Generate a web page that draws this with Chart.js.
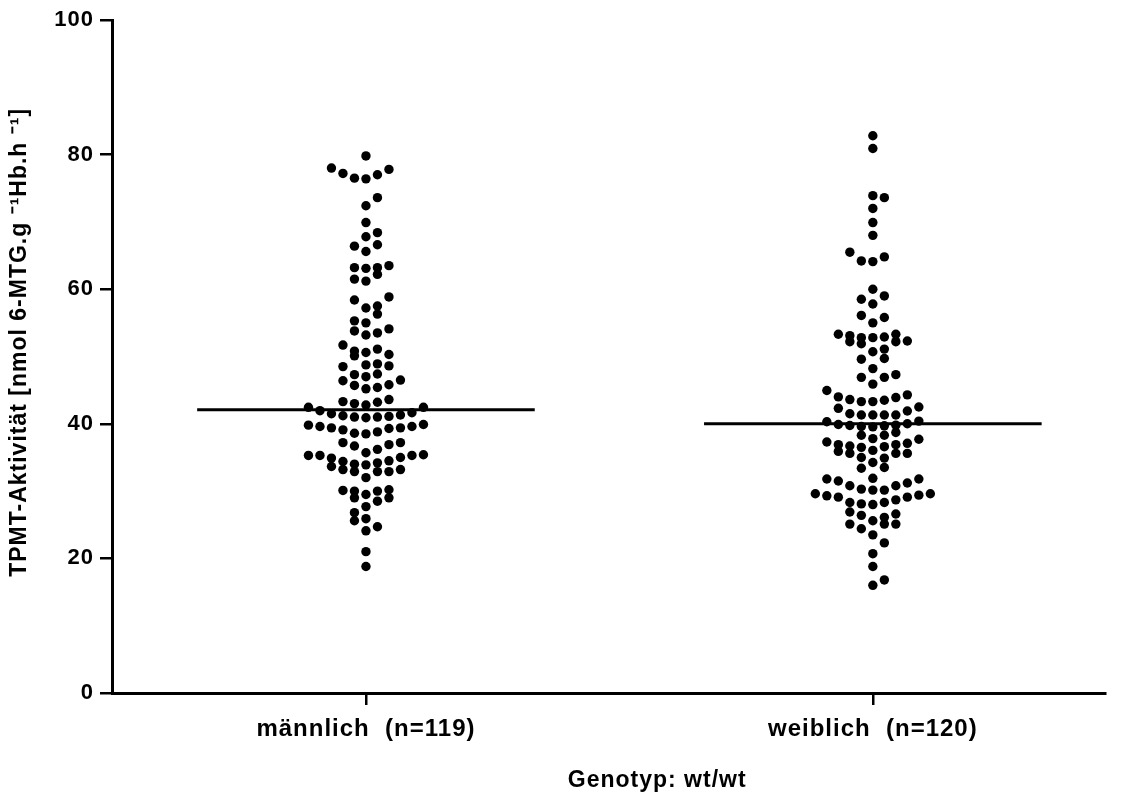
<!DOCTYPE html>
<html>
<head>
<meta charset="utf-8">
<script src="https://cdn.jsdelivr.net/npm/chart.js@4.4.0/dist/chart.umd.min.js"></script>
<style>
  html, body { margin: 0; padding: 0; background: #ffffff; }
  canvas { display: block; }
</style>
</head>
<body>
<canvas id="c" width="1123" height="800"></canvas>
<script>
// ---------------- data ----------------
const categories = ['männlich  (n=119)', 'weiblich  (n=120)'];

const maleValues = [
  18.8, 21.0,
  24.1, 24.7, 25.6,
  25.9, 26.8,
  27.7, 28.5, 29.0, 29.0,
  29.5, 30.0, 30.0, 30.1, 30.2,
  32.0, 32.9, 32.9, 32.9, 33.2, 33.2, 33.65,
  33.9, 34.0, 34.2, 34.4, 34.5, 34.9, 35.0, 35.3, 35.3, 35.3, 35.4,
  35.7, 36.2, 36.7, 36.9, 37.2, 37.2,
  38.5, 38.6, 38.8, 39.1, 39.3, 39.4, 39.4, 39.6, 39.6, 39.8, 39.9,
  40.9, 41.0, 41.0, 41.1, 41.2, 41.3, 41.5, 41.65, 41.95, 42.45, 42.45,
  42.8, 43.0, 43.2, 43.3, 43.6,
  45.2, 45.4, 45.7, 45.8, 46.4, 46.5,
  47.0, 47.3, 47.4, 48.5, 48.6,
  48.75, 48.9, 50.1, 50.3,
  50.6, 50.8, 51.1, 51.7,
  53.2, 53.5, 53.8, 54.1,
  55.0, 55.3, 56.3,
  57.2, 57.5, 58.4, 58.85,
  61.2, 61.5, 62.2,
  63.1, 63.2, 63.2, 63.5,
  65.6, 66.4, 66.6,
  67.8, 68.4,
  69.9,
  72.4, 73.6,
  76.4, 76.5, 77.0, 77.2, 77.8, 78.0,
  79.8
];

const femaleValues = [
  16.0, 16.8,
  18.8,
  20.7, 22.3,
  23.5, 24.4, 25.1, 25.1, 25.1,
  25.6, 26.1, 26.4, 26.6, 26.9,
  28.0, 28.1, 28.3, 28.3, 28.7, 29.1, 29.1, 29.3, 29.4, 29.6, 29.6,
  30.15, 30.15, 30.3, 30.8, 30.8, 31.2, 31.5, 31.8, 31.8,
  31.9, 33.4, 33.5,
  34.25, 34.9, 35.0, 35.6, 35.6, 35.6, 35.9,
  36.05, 36.5, 36.6, 36.7, 36.9, 36.9, 37.1, 37.3, 37.7,
  37.8, 38.3, 38.3, 38.7,
  39.55, 39.6, 39.7, 39.75, 39.8, 39.9, 40.0, 40.3, 40.4,
  41.3, 41.3, 41.3, 41.3, 41.5, 41.9, 42.3, 42.5,
  43.3, 43.3, 43.5, 43.6, 43.9, 44.0, 44.3, 44.95,
  45.9, 46.9, 46.9, 47.3,
  48.2, 49.6, 49.7,
  50.7, 51.1, 51.9, 52.2, 52.2, 52.3,
  52.8, 52.8, 52.9, 53.1, 53.3, 53.3,
  55.0, 55.8, 56.1,
  57.8, 58.5, 59.0,
  60.0,
  64.1, 64.2, 64.8, 65.5,
  68.0,
  69.9,
  72.0, 73.6,
  73.9,
  80.9,
  82.8
];

const groupMeans = [42.1, 40.0];
const yTickValues = [0, 20, 40, 60, 80, 100];
const yTitle = 'TPMT-Aktivität [nmol 6-MTG.g ⁻¹Hb.h ⁻¹]';
const xTitle = 'Genotyp: wt/wt';

// ---------------- styling constants ----------------
const FONT = "'Liberation Sans', Arial, Helvetica, sans-serif";
const DOT_RADIUS = 4.7;
const COL_STEP_PX = 11.5;   // horizontal spacing of swarm columns
const ROW_BIN_PX = 11.5;    // vertical extent of one swarm row
const MEAN_HALF = 0.333;    // half length of mean bar (x units)

const groups = [maleValues, femaleValues];

const letterSpacingPlugin = {
  id: 'letterSpacing',
  beforeDraw(chart) { try { chart.ctx.letterSpacing = '1px'; } catch (e) {} }
};

const titlesPlugin = {
  id: 'axisTitles',
  afterDraw(chart) {
    const { ctx, chartArea: a } = chart;
    ctx.save();
    ctx.font = `bold 23px ${FONT}`;
    ctx.fillStyle = '#000';
    ctx.textAlign = 'center';
    ctx.textBaseline = 'middle';
    // x-axis title
    ctx.fillText(xTitle, a.left + (a.right - a.left) * 0.549, chart.height - 19);
    // y-axis title (rotated)
    ctx.translate(20, a.top + (a.bottom - a.top) * 0.479);
    ctx.rotate(-Math.PI / 2);
    ctx.fillText(yTitle, 0, 0);
    ctx.restore();
  }
};

const axisGrid = {
  display: true, drawOnChartArea: false, drawTicks: true,
  tickLength: 12, color: '#000', lineWidth: 2.5
};
const axisBorder = { display: true, color: '#000', width: 3 };

const chart = new Chart(document.getElementById('c').getContext('2d'), {
  type: 'scatter',
  data: {
    datasets: [
      ...groups.map((vals, gi) => ({
        type: 'scatter',
        data: vals.map(v => ({ x: gi, y: v })),
        backgroundColor: '#000',
        borderColor: '#000',
        borderWidth: 0,
        pointRadius: DOT_RADIUS,
        pointHoverRadius: DOT_RADIUS,
        order: 2
      })),
      ...groupMeans.map((m, gi) => ({
        type: 'line',
        data: [{ x: gi - MEAN_HALF, y: m }, { x: gi + MEAN_HALF, y: m }],
        borderColor: '#000',
        borderWidth: 3,
        pointRadius: 0,
        fill: false,
        showLine: true,
        order: 1
      }))
    ]
  },
  options: {
    responsive: false,
    animation: false,
    devicePixelRatio: 1,
    layout: { padding: { top: 20, right: 18, bottom: 0, left: 0 } },
    plugins: { legend: { display: false }, tooltip: { enabled: false } },
    scales: {
      x: {
        type: 'linear',
        min: -0.501,
        max: 1.458,
        afterBuildTicks: s => { s.ticks = categories.map((c, i) => ({ value: i })); },
        afterFit: s => { s.height = 107; },
        ticks: {
          callback: v => categories[v] ?? '',
          font: { family: FONT, size: 24, weight: 'bold' },
          color: '#000',
          padding: 10,
          autoSkip: false,
          maxRotation: 0,
          minRotation: 0
        },
        grid: axisGrid,
        border: axisBorder,
        title: { display: false }
      },
      y: {
        min: 0,
        max: 100,
        afterBuildTicks: s => { s.ticks = yTickValues.map(v => ({ value: v })); },
        afterFit: s => { s.width = 112; },
        ticks: {
          font: { family: FONT, size: 22, weight: 'bold' },
          color: '#000',
          padding: 6
        },
        grid: axisGrid,
        border: axisBorder,
        title: { display: false }
      }
    }
  },
  plugins: [letterSpacingPlugin, titlesPlugin]
});

// Column-scatter layout: values are grouped bottom-up into rows one dot high;
// inside a row the lowest value sits in the centre and the others alternate
// outwards, the starting side flipping from row to row.
function layoutSwarm(ch) {
  const xs = ch.scales.x, ys = ch.scales.y;
  const pxPerX = Math.abs(xs.getPixelForValue(1) - xs.getPixelForValue(0));
  const pxPerY = Math.abs(ys.getPixelForValue(0) - ys.getPixelForValue(1));
  const stepX = COL_STEP_PX / pxPerX;
  const binY = ROW_BIN_PX / pxPerY;
  groups.forEach((vals, gi) => {
    const sorted = [...vals].sort((a, b) => a - b);
    const pts = [];
    let rowStart = -Infinity, k = 0, row = -1;
    sorted.forEach(v => {
      if (v - rowStart >= binY) { rowStart = v; k = 0; row++; }
      const dir = row % 2 === 0 ? 1 : -1;
      const slot = k === 0 ? 0 : (k % 2 === 1 ? dir * (k + 1) / 2 : -dir * k / 2);
      pts.push({ x: gi + slot * stepX, y: v });
      k++;
    });
    ch.data.datasets[gi].data = pts;
  });
  ch.update('none');
}
layoutSwarm(chart);
</script>
</body>
</html>
